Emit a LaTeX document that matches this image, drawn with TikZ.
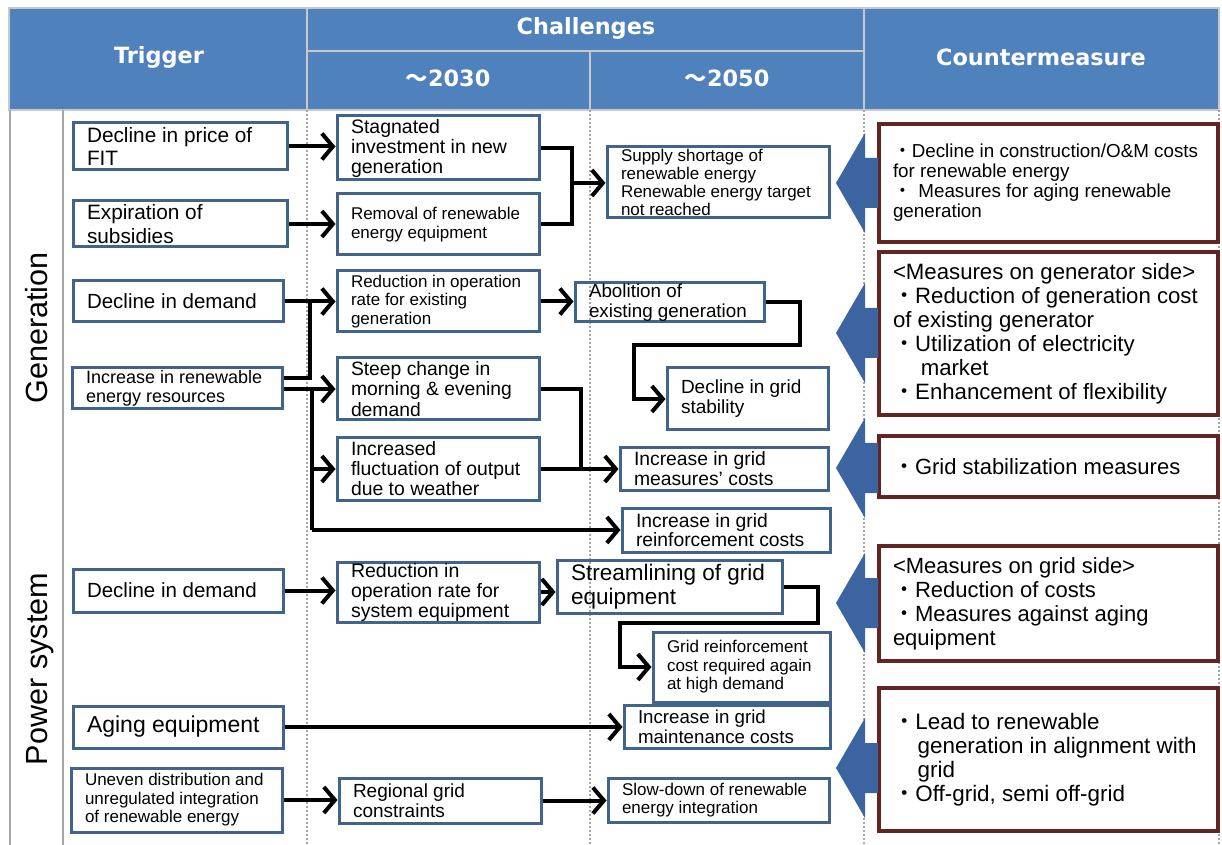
\documentclass[tikz,border=0pt]{standalone}
\usepackage{fontspec}
\setmainfont{Liberation Sans}
\newfontfamily\hdfont{DejaVu Sans}
\newfontfamily\cjk{Noto Sans CJK JP}
\usetikzlibrary{arrows.meta}
\definecolor{hdblue}{HTML}{4F81BD}
\definecolor{boxblue}{HTML}{41648F}
\definecolor{mred}{HTML}{632523}
\definecolor{bigblue}{HTML}{3B64A0}
\definecolor{gline}{HTML}{A6A6A6}
\definecolor{hdline}{HTML}{C8C8C8}
\newcommand\fz[2]{\fontsize{#1pt}{#2pt}\selectfont}
\newcommand\dt{{\cjk ・}}
\newcommand\bx[7]{%
  \pgfmathsetmacro\bxw{(#5-#3)*0.5}%
  \pgfmathsetmacro\bxh{(#6-#4)*0.5}%
  \pgfmathsetmacro\bxt{(#5-#3)*0.5-14}%
  \pgfmathsetmacro\bxcx{(#3+#5)/2}%
  \pgfmathsetmacro\bxcy{(#4+#6)/2}%
  \node[#1, minimum width=\bxw pt, minimum height=\bxh pt, text width=\bxt pt] (#2) at (\bxcx,\bxcy) {\hyphenpenalty=10000 #7\par};%
}
\tikzset{
  tbox/.style={draw=boxblue, line width=1.5pt, rectangle, align=flush left, inner xsep=7pt, inner ysep=0pt, text=black},
  mbox/.style={draw=mred, line width=1.75pt, rectangle, align=flush left, inner xsep=7pt, inner ysep=0pt, text=black},
  ln/.style={line width=2pt, black},
  conn/.style={ln, -{Straight Barb[length=5.5pt,width=13pt]}},
  hdtext/.style={text=white, font=\hdfont\bfseries\fz{11.2}{13}, inner sep=0pt},
  sline/.style={gline, line width=0.9pt},
  dline/.style={gline, line width=0.7pt, dash pattern=on 1pt off 1pt},
}
\begin{document}
\begin{tikzpicture}[x=0.5pt,y=-0.5pt]
\useasboundingbox (0,0) rectangle (1222,845);
\fill[white] (0,0) rectangle (1222,845);
% header
\fill[hdblue] (9,8) rectangle (1219,110);
\draw[hdline, line width=0.8pt] (9,8) rectangle (1219,110);
\draw[hdline, line width=0.8pt] (307,8) -- (307,110) (864,8) -- (864,110) (590,51) -- (590,110) (307,51) -- (864,51);
\node[hdtext] (hTrig) at (159,57) {Trigger};
\node[hdtext] (hChal) at (586,28) {Challenges};
\node[hdtext] (h2030) at (448,78) {{\cjk\bfseries ～}2030};
\node[hdtext] (h2050) at (727,78) {{\cjk\bfseries ～}2050};
\node[hdtext] (hCnt) at (1041,57) {Countermeasure};
% body grid lines
\draw[sline] (10,110) -- (10,845) (63,110) -- (63,845);
\draw[dline] (307,110) -- (307,845) (590,110) -- (590,845) (864,110) -- (864,845) (1219,110) -- (1219,845);
% row labels
\node[rotate=90, anchor=base, inner sep=0pt, font=\fz{15.3}{17}] (rGen) at (47,328) {Generation};
\node[rotate=90, anchor=base, inner sep=0pt, font=\fz{15.3}{17}] (rPow) at (47,669) {Power system};
% trigger boxes
\bx{tbox}{T1}{73}{123}{287}{170}{\fz{10.4}{11.5}Decline in price of\\FIT}
\bx{tbox}{T2}{73}{201}{287}{247}{\fz{10.4}{12}Expiration of\\subsidies}
\bx{tbox}{T3}{73}{281}{283}{322}{\fz{10.25}{12}Decline in demand}
\bx{tbox}{T4}{72}{368}{282}{409}{\fz{9}{9.5}Increase in renewable\\energy resources}
\bx{tbox}{T5}{73}{569}{283}{612}{\fz{10.25}{12}Decline in demand}
\bx{tbox}{T6}{73}{706}{283}{748}{\fz{11.5}{13}Aging equipment}
\bx{tbox}{T7}{71}{768}{282}{832}{\fz{8.5}{9.25}Uneven distribution and\\unregulated integration\\of renewable energy}
% 2030 boxes
\bx{tbox}{C1}{337}{116}{539}{180}{\fz{9.75}{10}Stagnated\\investment in new\\generation}
\bx{tbox}{C2}{337}{194}{539}{255}{\fz{8.5}{9.5}Removal of renewable\\energy equipment}
\bx{tbox}{C3}{337}{271}{539}{332}{\fz{8.5}{9.25}Reduction in operation\\rate for existing\\generation}
\bx{tbox}{C4}{337}{358}{539}{420}{\fz{9.65}{10.25}Steep change in\\morning \& evening\\demand}
\bx{tbox}{C5}{337}{438}{539}{500}{\fz{9.7}{10}Increased\\fluctuation of output\\due to weather}
\bx{tbox}{C6}{337}{562}{539}{622}{\fz{9.75}{10}Reduction in\\operation rate for\\system equipment}
\bx{tbox}{C7}{339}{778}{541}{823}{\fz{9.5}{10}Regional grid\\constraints}
% 2050 boxes
\bx{tbox}{D1}{607}{147}{829}{218}{\fz{8.5}{9}Supply shortage of\\renewable energy\\Renewable energy target\\not reached}
\bx{tbox}{D2}{575}{283}{764}{322}{\fz{9.4}{10}Abolition of\\existing generation}
\bx{tbox}{D3}{667}{368}{828}{430}{\fz{9.5}{10}Decline in grid\\stability}
\bx{tbox}{D4}{620}{448}{828}{490}{\fz{9.65}{10}Increase in grid\\measures’ costs}
\bx{tbox}{D5}{622}{508}{830}{552}{\fz{9.65}{9.75}Increase in grid\\reinforcement costs}
\bx{tbox}{D6}{557}{560}{782}{613}{\fz{11.25}{12}Streamlining of grid\\equipment}
\bx{tbox}{D7}{653}{632}{830}{702}{\fz{8.5}{9.25}Grid reinforcement\\cost required again\\at high demand}
\bx{tbox}{D8}{624}{705}{830}{748}{\fz{9.35}{10}Increase in grid\\maintenance costs}
\bx{tbox}{D9}{608}{778}{829}{822}{\fz{8.5}{9.25}Slow-down of renewable\\energy integration}
% countermeasure boxes
\bx{mbox}{M1}{879}{124}{1218}{242}{\fz{9.4}{10}\dt Decline in construction/O\&M costs\\for renewable energy\\\dt\hspace{0.35em}Measures for aging renewable\\generation}
\bx{mbox}{M2}{879}{252}{1218}{415}{\fz{11.1}{12}<Measures on generator side>\\\dt Reduction of generation cost\\of existing generator\\\dt Utilization of electricity\\\hspace*{1.25em}market\\\dt Enhancement of flexibility}
\bx{mbox}{M3}{879}{436}{1218}{497}{\fz{11}{12}\dt Grid stabilization measures}
\bx{mbox}{M4}{879}{546}{1218}{661}{\fz{11}{12}<Measures on grid side>\\\dt Reduction of costs\\\dt Measures against aging\\equipment}
\bx{mbox}{M5}{879}{688}{1218}{831}{\fz{11.2}{12}\dt Lead to renewable\\\hspace*{1.1em}generation in alignment with\\\hspace*{1.1em}grid\\\dt Off-grid, semi off-grid}
% big arrows
\foreach \c in {183,333,468,603,768}{
  \fill[bigblue] (836,\c) -- (865,\c-50) -- (865,\c-25) -- (878,\c-25) -- (878,\c+25) -- (865,\c+25) -- (865,\c+50) -- cycle;
}
% connectors
\coordinate (b1) at (572,183);
\coordinate (j1) at (310,378);
\coordinate (j2) at (312,530);
\coordinate (k1) at (800,345);
\coordinate (k2) at (634,345);
\coordinate (m1) at (581,400);
\coordinate (n1) at (818,623);
\coordinate (n2) at (620,623);
\draw[conn] (T1.east) -- (T1.east -| C1.west);
\draw[conn] (T2.east) -- (T2.east -| C2.west);
\draw[ln] (C1.east) -- (C1.east -| b1) -- (C2.east -| b1) -- (C2.east);
\draw[conn] (b1) -- (b1 -| D1.west);
\draw[ln] (T4.east |- j1) -- (j1) -- (j1 |- T3.east);
\draw[conn] (T3.east) -- (T3.east -| C3.west);
\draw[conn] (C4.west -| T4.east) -- (C4.west);
\draw[ln] (C4.west -| j2) -- (j2);
\draw[conn] (j2) -- (j2 -| D5.west);
\draw[conn] (C5.west -| j2) -- (C5.west);
\draw[conn] (C3.east) -- (C3.east -| D2.west);
\draw[conn] (D2.east) -- (D2.east -| k1) -- (k1) -- (k2) -- (k2 |- D3.west) -- (D3.west);
\draw[ln] (C4.east) -- (C4.east -| m1) -- (m1 |- D4.west);
\draw[conn] (C5.east) -- (C5.east -| D4.west);
\draw[conn] (T5.east) -- (T5.east -| C6.west);
\draw[conn] (C6.east) -- (C6.east -| D6.west);
\draw[conn] (D6.east) -- (D6.east -| n1) -- (n1) -- (n2) -- (n2 |- D7.west) -- (D7.west);
\draw[conn] (T6.east) -- (T6.east -| D8.west);
\draw[conn] (T7.east) -- (T7.east -| C7.west);
\draw[conn] (C7.east) -- (C7.east -| D9.west);
\end{tikzpicture}
\end{document}
